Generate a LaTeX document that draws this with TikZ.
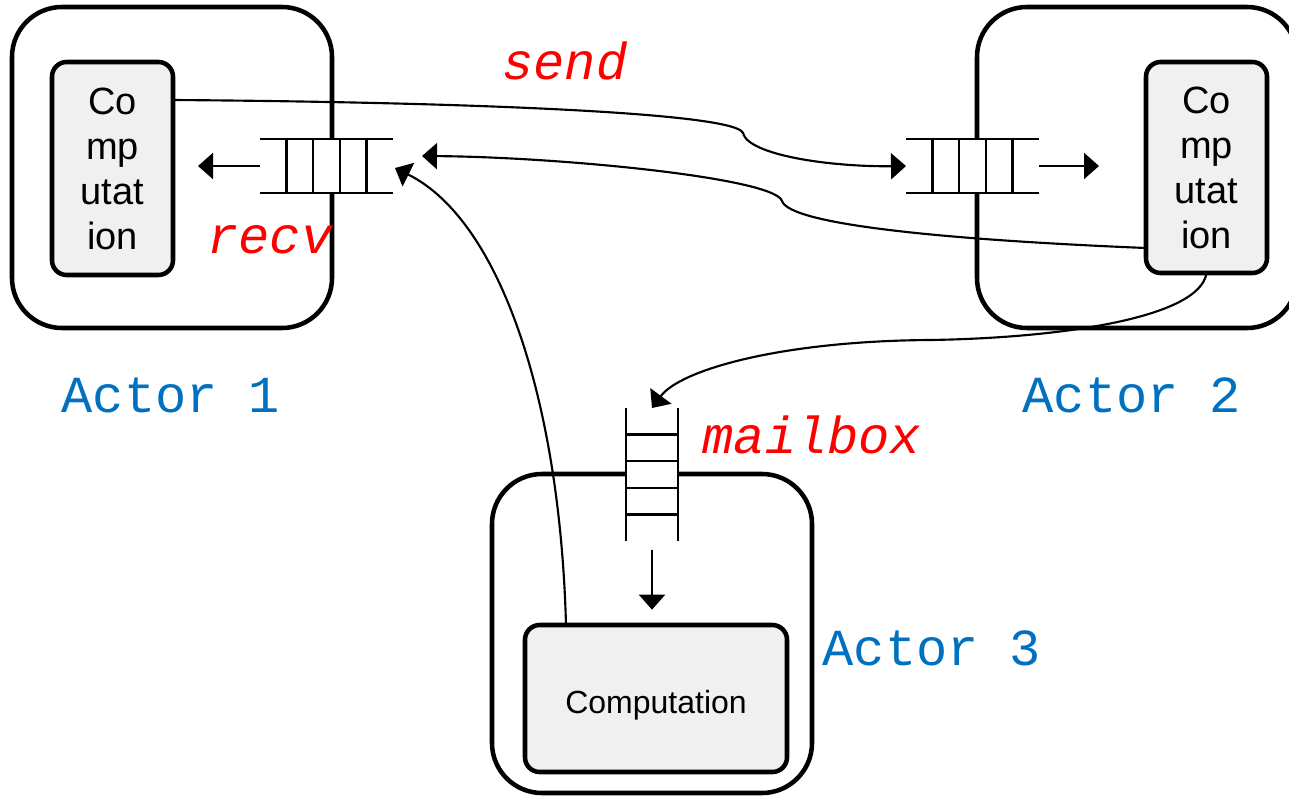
\documentclass[tikz,border=0pt]{standalone}
\usepackage{fontspec}
\setmainfont{Liberation Sans}
\newfontfamily\codefont{Liberation Mono}
\usetikzlibrary{arrows.meta,calc}
\definecolor{labelblue}{HTML}{0070C0}
\definecolor{boxgrey}{HTML}{F0F0F0}

\begin{document}
\begin{tikzpicture}[x=0.75pt,y=-0.75pt,
  actor/.style={draw, line width=3.4pt, rounded corners=37.5pt, inner sep=0pt, outer sep=0pt,
                minimum width=240pt, minimum height=240.75pt},
  comp/.style={draw, line width=3.4pt, fill=boxgrey, rounded corners=11pt, inner sep=0pt,
               outer sep=0pt, align=center, font=\fontsize{28.5}{33.75}\selectfont},
  queue/.style={fill=white, inner sep=0pt, outer sep=0pt},
  qline/.style={line width=1.7pt},
  msg/.style={line width=1.6pt, -{Triangle[length=11.25pt,width=19.5pt]}},
  actorlabel/.style={text=labelblue, font=\codefont\fontsize{39}{39}\selectfont, anchor=base, inner sep=0pt},
  verb/.style={text=red, font=\codefont\itshape\fontsize{39}{39}\selectfont, anchor=base, inner sep=0pt}]

\clip (0,0) rectangle (1289,796);

% actors
\node[actor] (a1) at (172,167.5) {};
\node[actor] (a2) at (1137,167.5) {};
\node[actor, minimum height=239.25pt] (a3) at (652,633.5) {};

% computation boxes
\node[comp, minimum width=90.75pt, minimum height=159.75pt] (c1) at (112.5,168.5) {Co\\mp\\utat\\ion};
\node[comp, minimum width=90.75pt, minimum height=158.25pt] (c2) at (1206.5,167.5) {Co\\mp\\utat\\ion};
\node[comp, minimum width=196.5pt, minimum height=110.25pt, font=\fontsize{24}{28}\selectfont] (c3) at (656,698.5) {\raisebox{-11.25pt}[0pt][0pt]{Computation}};

% connector end points on the box borders
\coordinate (send-start) at (173,100);
\coordinate (send-bend) at (743,133);
\coordinate (recv-start) at (1146,248);
\coordinate (recv-bend) at (782,201);
\coordinate (recv-end) at (422,156);
\coordinate (reply-start) at (566,625);
\coordinate (reply-end) at (395,168);
\coordinate (mail-bend) at (930,340);

% queues (white fill hides the actor border underneath)
\node[queue, minimum width=99.75pt, minimum height=40.5pt] (q1) at (326.5,166) {};
\node[queue, minimum width=99.75pt, minimum height=40.5pt] (q2) at (972.5,166) {};
\node[queue, minimum width=39pt, minimum height=99.75pt] (mb) at (652,474.5) {};

\foreach \q in {q1,q2} {
  \draw[qline] (\q.north west) -- (\q.north east);
  \draw[qline] (\q.south west) -- (\q.south east);
  \foreach \f in {0.2,0.4,0.6,0.8}
    \draw[qline] ($(\q.north west)!\f!(\q.north east)$) -- ($(\q.south west)!\f!(\q.south east)$);
}
\draw[qline] (mb.north west) -- (mb.south west);
\draw[qline] (mb.north east) -- (mb.south east);
\foreach \f in {0.2,0.4,0.6,0.8}
  \draw[qline] ($(mb.north west)!\f!(mb.south west)$) -- ($(mb.north east)!\f!(mb.south east)$);

% delivery from the queues into the computations
\draw[msg] (q1.west) -- ++(-62,0);
\draw[msg] (q2.east) -- ++(60,0);
\draw[msg] ([yshift=-6.5pt]mb.south) -- ++(0,60);

% messages between actors
\draw[msg] (send-start) .. controls (450,102) and (735,112) .. (send-bend)
                        .. controls (748,155) and (830,167) .. (q2.west);
\draw[msg] (recv-start) .. controls (950,240) and (790,225) .. (recv-bend)
                        .. controls (775,178) and (560,157) .. (recv-end);
\draw[msg] (c2.south) .. controls (1200,318) and (1060,338) .. (mail-bend)
                      .. controls (780,341) and (680,370) .. (mb.north);
\draw[msg] (reply-start) .. controls (560,400) and (500,220) .. (reply-end);

% labels
\node[verb] (l-send) at (565,79) {send};
\node[verb] (l-recv) at (270,253) {recv};
\node[verb] (l-mail) at (812,453) {mailbox};
\node[actorlabel] (l-a1) at (171,412) {Actor 1};
\node[actorlabel] (l-a2) at (1132,412) {Actor 2};
\node[actorlabel] (l-a3) at (932,665) {Actor 3};
\end{tikzpicture}
\end{document}
